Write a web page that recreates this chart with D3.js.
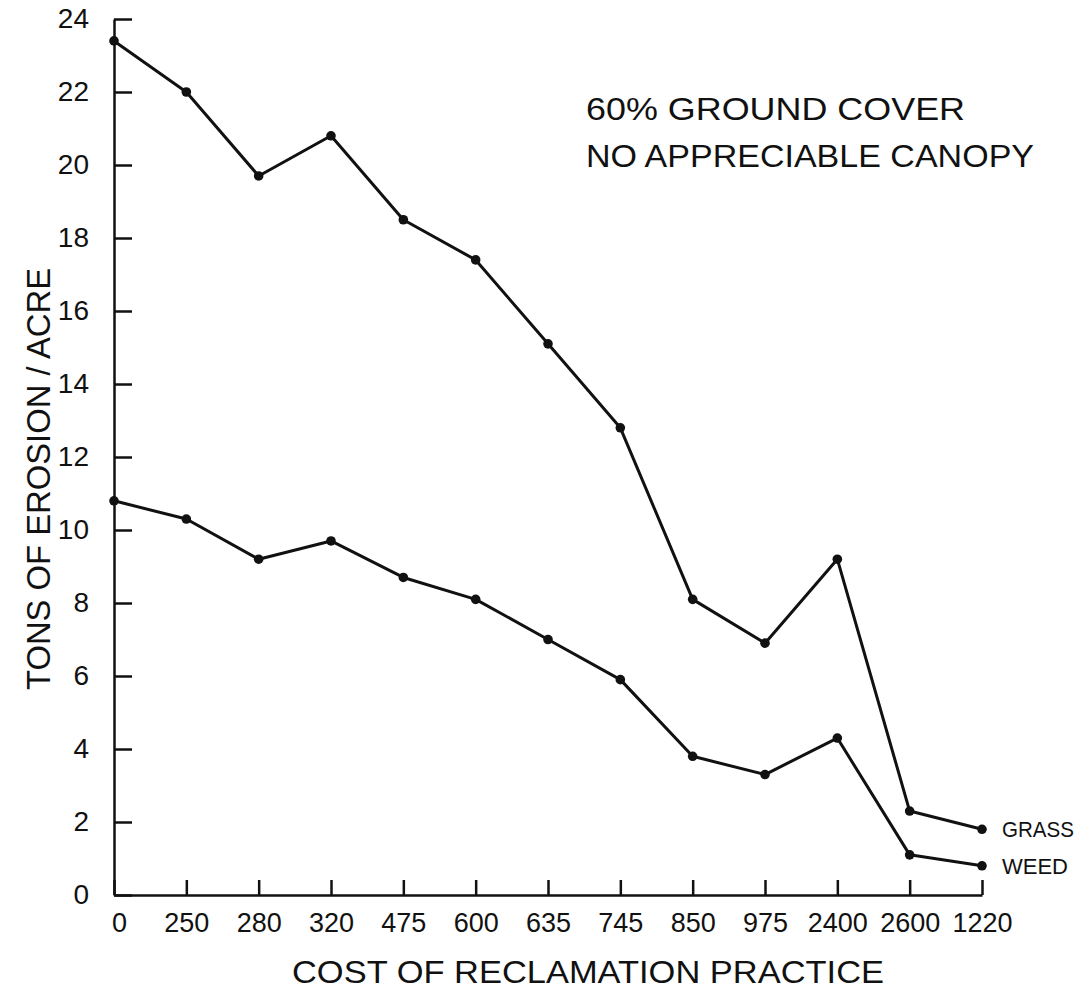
<!DOCTYPE html>
<html>
<head>
<meta charset="utf-8">
<script src="https://cdn.jsdelivr.net/npm/d3@7"></script>
<style>
  html, body { margin: 0; padding: 0; background: #fff; }
  svg { display: block; }
  text { font-family: "Liberation Sans", "DejaVu Sans", sans-serif; fill: #111; }
</style>
</head>
<body>
<svg id="chart" width="1083" height="990"></svg>
<script>
// Cost of reclamation practice (category labels, in plotted order)
const costs = ["0", "250", "280", "320", "475", "600", "635", "745", "850", "975", "2400", "2600", "1220"];
// Tons of erosion per acre
const grass = [23.4, 22.0, 19.7, 20.8, 18.5, 17.4, 15.1, 12.8, 8.1, 6.9, 9.2, 2.3, 1.8];
const weed  = [10.8, 10.3, 9.2, 9.7, 8.7, 8.1, 7.0, 5.9, 3.8, 3.3, 4.3, 1.1, 0.8];
const yTicks = [0, 2, 4, 6, 8, 10, 12, 14, 16, 18, 20, 22, 24];
const seriesNames = ["GRASS", "WEED"];
const seriesLabelWidths = [72, 66];

const svg = d3.select("#chart");
const ink = "#111";

const x = d3.scalePoint().domain(costs).range([114, 982]);
const y = d3.scaleLinear().domain([0, 24]).range([895, 19]);

// y axis, ticks pointing into the plot
const yAxis = svg.append("g")
  .attr("transform", `translate(${x(costs[0])},0)`)
  .call(d3.axisLeft(y).tickValues(yTicks).tickSizeInner(-18).tickSizeOuter(0).tickPadding(25));

// x axis, ticks pointing up
const xAxis = svg.append("g")
  .attr("transform", `translate(0,${y(0)})`)
  .call(d3.axisBottom(x).tickSizeInner(-15).tickSizeOuter(0).tickPadding(18));

[yAxis, xAxis].forEach(g => {
  g.select(".domain").attr("stroke", ink).attr("stroke-width", 2.5);
  g.selectAll(".tick line").attr("stroke", ink).attr("stroke-width", 2.5);
});
yAxis.selectAll(".tick text").attr("font-size", 28).attr("fill", ink);
xAxis.selectAll(".tick text").attr("font-size", 27).attr("fill", ink)
  .attr("dx", (d, i) => i === 0 ? 5 : 0);

// series lines and markers
const line = d3.line().x((d, i) => x(costs[i])).y(d => y(d));
[grass, weed].forEach(vals => {
  svg.append("path")
    .datum(vals)
    .attr("d", line)
    .attr("fill", "none")
    .attr("stroke", ink)
    .attr("stroke-width", 3)
    .attr("stroke-linejoin", "round");
  svg.append("g").selectAll("circle")
    .data(vals)
    .join("circle")
    .attr("cx", (d, i) => x(costs[i]))
    .attr("cy", d => y(d))
    .attr("r", 4.8)
    .attr("fill", ink);
});

// series labels at the line ends
const last = costs.length - 1;
[grass, weed].forEach((vals, k) => {
  svg.append("text")
    .attr("x", x(costs[last]) + 20)
    .attr("y", y(vals[last]))
    .attr("dy", "0.36em")
    .attr("font-size", 22)
    .attr("textLength", seriesLabelWidths[k])
    .attr("lengthAdjust", "spacingAndGlyphs")
    .text(seriesNames[k]);
});

// annotation
svg.append("text").attr("x", 586).attr("y", 120).attr("font-size", 32)
  .attr("textLength", 379).attr("lengthAdjust", "spacingAndGlyphs")
  .text("60% GROUND  COVER");
svg.append("text").attr("x", 586).attr("y", 167).attr("font-size", 32)
  .attr("textLength", 448).attr("lengthAdjust", "spacingAndGlyphs")
  .text("NO  APPRECIABLE  CANOPY");

// axis titles
svg.append("text").attr("x", 292).attr("y", 983).attr("font-size", 32)
  .attr("textLength", 592).attr("lengthAdjust", "spacingAndGlyphs")
  .text("COST  OF  RECLAMATION  PRACTICE");
svg.append("text")
  .attr("transform", "translate(50,690) rotate(-90)")
  .attr("font-size", 34)
  .attr("textLength", 422).attr("lengthAdjust", "spacingAndGlyphs")
  .text("TONS  OF  EROSION / ACRE");
</script>
</body>
</html>
